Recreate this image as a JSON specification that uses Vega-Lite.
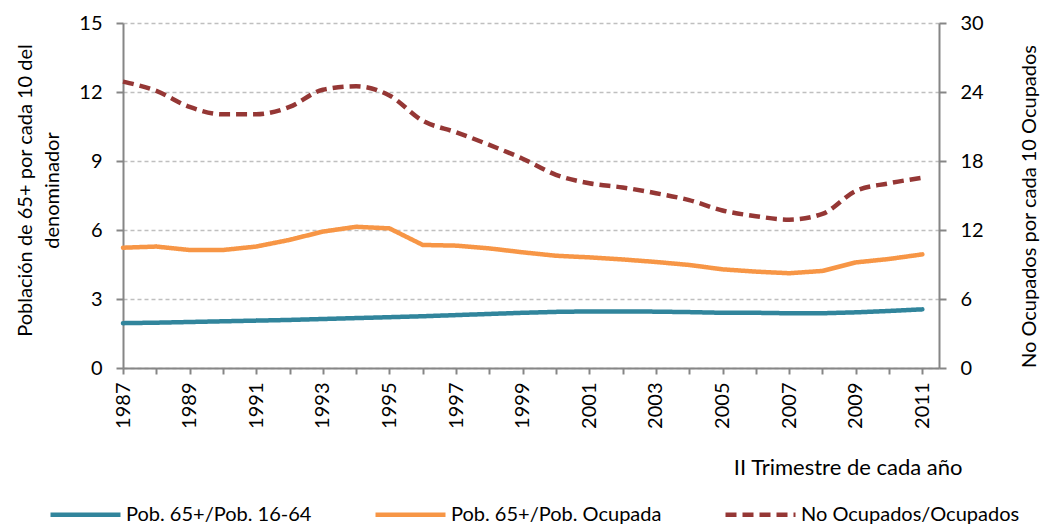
{
  "$schema": "https://vega.github.io/schema/vega-lite/v6.json",
  "width": 816,
  "height": 345,
  "autosize": {"type": "none"},
  "padding": {"left": 123, "top": 23, "right": 101, "bottom": 156},
  "background": "white",
  "config": {
    "font": "Lato",
    "view": {"stroke": null},
    "axis": {"labelFont": "Lato", "titleFont": "Lato", "labelColor": "#000000", "titleColor": "#000000", "domainColor": "#868686", "tickColor": "#868686", "domainWidth": 2, "tickWidth": 2},
    "legend": {
      "orient": "none",
      "legendX": -75,
      "legendY": 454,
      "direction": "horizontal",
      "symbolType": "stroke",
      "symbolSize": 4900,
      "symbolStrokeWidth": 4.5,
      "labelFontSize": 20,
      "labelFont": "Lato",
      "labelColor": "#000000",
      "labelOffset": 3,
      "labelLimit": 0,
      "columnPadding": 54,
      "title": null
    }
  },
  "data": {
    "values": [
      {"year": 1987, "series": "Pob. 65+/Pob. 16-64", "value": 1.95},
      {"year": 1988, "series": "Pob. 65+/Pob. 16-64", "value": 1.97},
      {"year": 1989, "series": "Pob. 65+/Pob. 16-64", "value": 2.0},
      {"year": 1990, "series": "Pob. 65+/Pob. 16-64", "value": 2.03},
      {"year": 1991, "series": "Pob. 65+/Pob. 16-64", "value": 2.06},
      {"year": 1992, "series": "Pob. 65+/Pob. 16-64", "value": 2.09},
      {"year": 1993, "series": "Pob. 65+/Pob. 16-64", "value": 2.13},
      {"year": 1994, "series": "Pob. 65+/Pob. 16-64", "value": 2.17},
      {"year": 1995, "series": "Pob. 65+/Pob. 16-64", "value": 2.21},
      {"year": 1996, "series": "Pob. 65+/Pob. 16-64", "value": 2.25},
      {"year": 1997, "series": "Pob. 65+/Pob. 16-64", "value": 2.3},
      {"year": 1998, "series": "Pob. 65+/Pob. 16-64", "value": 2.35},
      {"year": 1999, "series": "Pob. 65+/Pob. 16-64", "value": 2.4},
      {"year": 2000, "series": "Pob. 65+/Pob. 16-64", "value": 2.44},
      {"year": 2001, "series": "Pob. 65+/Pob. 16-64", "value": 2.46},
      {"year": 2002, "series": "Pob. 65+/Pob. 16-64", "value": 2.46},
      {"year": 2003, "series": "Pob. 65+/Pob. 16-64", "value": 2.45},
      {"year": 2004, "series": "Pob. 65+/Pob. 16-64", "value": 2.43},
      {"year": 2005, "series": "Pob. 65+/Pob. 16-64", "value": 2.4},
      {"year": 2006, "series": "Pob. 65+/Pob. 16-64", "value": 2.4},
      {"year": 2007, "series": "Pob. 65+/Pob. 16-64", "value": 2.38},
      {"year": 2008, "series": "Pob. 65+/Pob. 16-64", "value": 2.38},
      {"year": 2009, "series": "Pob. 65+/Pob. 16-64", "value": 2.42},
      {"year": 2010, "series": "Pob. 65+/Pob. 16-64", "value": 2.48},
      {"year": 2011, "series": "Pob. 65+/Pob. 16-64", "value": 2.55},
      {"year": 1987, "series": "Pob. 65+/Pob. Ocupada", "value": 5.23},
      {"year": 1988, "series": "Pob. 65+/Pob. Ocupada", "value": 5.28},
      {"year": 1989, "series": "Pob. 65+/Pob. Ocupada", "value": 5.13},
      {"year": 1990, "series": "Pob. 65+/Pob. Ocupada", "value": 5.13},
      {"year": 1991, "series": "Pob. 65+/Pob. Ocupada", "value": 5.28},
      {"year": 1992, "series": "Pob. 65+/Pob. Ocupada", "value": 5.57},
      {"year": 1993, "series": "Pob. 65+/Pob. Ocupada", "value": 5.93},
      {"year": 1994, "series": "Pob. 65+/Pob. Ocupada", "value": 6.14},
      {"year": 1995, "series": "Pob. 65+/Pob. Ocupada", "value": 6.07},
      {"year": 1996, "series": "Pob. 65+/Pob. Ocupada", "value": 5.35},
      {"year": 1997, "series": "Pob. 65+/Pob. Ocupada", "value": 5.32},
      {"year": 1998, "series": "Pob. 65+/Pob. Ocupada", "value": 5.2},
      {"year": 1999, "series": "Pob. 65+/Pob. Ocupada", "value": 5.03},
      {"year": 2000, "series": "Pob. 65+/Pob. Ocupada", "value": 4.88},
      {"year": 2001, "series": "Pob. 65+/Pob. Ocupada", "value": 4.81},
      {"year": 2002, "series": "Pob. 65+/Pob. Ocupada", "value": 4.72},
      {"year": 2003, "series": "Pob. 65+/Pob. Ocupada", "value": 4.61},
      {"year": 2004, "series": "Pob. 65+/Pob. Ocupada", "value": 4.48},
      {"year": 2005, "series": "Pob. 65+/Pob. Ocupada", "value": 4.29},
      {"year": 2006, "series": "Pob. 65+/Pob. Ocupada", "value": 4.19},
      {"year": 2007, "series": "Pob. 65+/Pob. Ocupada", "value": 4.12},
      {"year": 2008, "series": "Pob. 65+/Pob. Ocupada", "value": 4.22},
      {"year": 2009, "series": "Pob. 65+/Pob. Ocupada", "value": 4.59},
      {"year": 2010, "series": "Pob. 65+/Pob. Ocupada", "value": 4.74},
      {"year": 2011, "series": "Pob. 65+/Pob. Ocupada", "value": 4.94},
      {"year": 1987, "series": "No Ocupados/Ocupados", "value": 24.9},
      {"year": 1988, "series": "No Ocupados/Ocupados", "value": 24.1},
      {"year": 1989, "series": "No Ocupados/Ocupados", "value": 22.7},
      {"year": 1990, "series": "No Ocupados/Ocupados", "value": 22.06},
      {"year": 1991, "series": "No Ocupados/Ocupados", "value": 22.06},
      {"year": 1992, "series": "No Ocupados/Ocupados", "value": 22.7},
      {"year": 1993, "series": "No Ocupados/Ocupados", "value": 24.2},
      {"year": 1994, "series": "No Ocupados/Ocupados", "value": 24.5},
      {"year": 1995, "series": "No Ocupados/Ocupados", "value": 23.7},
      {"year": 1996, "series": "No Ocupados/Ocupados", "value": 21.5},
      {"year": 1997, "series": "No Ocupados/Ocupados", "value": 20.5},
      {"year": 1998, "series": "No Ocupados/Ocupados", "value": 19.4},
      {"year": 1999, "series": "No Ocupados/Ocupados", "value": 18.2},
      {"year": 2000, "series": "No Ocupados/Ocupados", "value": 16.8},
      {"year": 2001, "series": "No Ocupados/Ocupados", "value": 16.06},
      {"year": 2002, "series": "No Ocupados/Ocupados", "value": 15.7},
      {"year": 2003, "series": "No Ocupados/Ocupados", "value": 15.2},
      {"year": 2004, "series": "No Ocupados/Ocupados", "value": 14.6},
      {"year": 2005, "series": "No Ocupados/Ocupados", "value": 13.7},
      {"year": 2006, "series": "No Ocupados/Ocupados", "value": 13.2},
      {"year": 2007, "series": "No Ocupados/Ocupados", "value": 12.9},
      {"year": 2008, "series": "No Ocupados/Ocupados", "value": 13.4},
      {"year": 2009, "series": "No Ocupados/Ocupados", "value": 15.4},
      {"year": 2010, "series": "No Ocupados/Ocupados", "value": 16.06},
      {"year": 2011, "series": "No Ocupados/Ocupados", "value": 16.55}
    ]
  },
  "encoding": {
    "x": {
      "field": "year",
      "type": "quantitative",
      "scale": {"domain": [1987, 2011.5], "nice": false, "zero": false},
      "axis": {
        "values": [1987,1988,1989,1990,1991,1992,1993,1994,1995,1996,1997,1998,1999,2000,2001,2002,2003,2004,2005,2006,2007,2008,2009,2010,2011],
        "format": "d",
        "labelExpr": "datum.value % 2 == 1 ? datum.label : ''",
        "labelAngle": -90,
        "labelAlign": "right",
        "labelBaseline": "middle",
        "labelFontSize": 20,
        "labelPadding": 8,
        "labelOverlap": false,
        "tickSize": 6,
        "grid": false,
        "title": "II Trimestre de cada año",
        "titleFontSize": 22,
        "titleFontWeight": "normal",
        "titleAnchor": "end",
        "titleAlign": "right",
        "titleBaseline": "middle",
        "titleX": 839,
        "titleY": 99
      }
    },
    "color": {
      "field": "series",
      "type": "nominal",
      "scale": {
        "domain": ["Pob. 65+/Pob. 16-64", "Pob. 65+/Pob. Ocupada", "No Ocupados/Ocupados"],
        "range": ["#31859C", "#F79646", "#953735"]
      }
    },
    "strokeDash": {
      "field": "series",
      "type": "nominal",
      "scale": {
        "domain": ["Pob. 65+/Pob. 16-64", "Pob. 65+/Pob. Ocupada", "No Ocupados/Ocupados"],
        "range": [[1, 0], [1, 0], [11, 6]]
      }
    }
  },
  "layer": [
    {
      "transform": [{"filter": "datum.series != 'No Ocupados/Ocupados'"}],
      "mark": {"type": "line", "strokeWidth": 4.5, "strokeCap": "round", "strokeJoin": "round"},
      "encoding": {
        "y": {
          "field": "value",
          "type": "quantitative",
          "scale": {"domain": [0, 15], "nice": false},
          "axis": {
            "values": [0, 3, 6, 9, 12, 15],
            "labelFontSize": 20,
            "labelPadding": 14,
            "tickSize": 7,
            "grid": true,
            "gridColor": "#BFBFBF",
            "gridDash": [4, 3],
            "gridWidth": 1.5,
            "title": ["Población de 65+ por cada 10 del", "denominador"],
            "titleFontSize": 20,
            "titleFontWeight": "normal",
            "titleAngle": -90,
            "titleBaseline": "middle",
            "titleAlign": "center",
            "titleLineHeight": 27,
            "titleX": -98,
            "titleY": 167
          }
        }
      }
    },
    {
      "transform": [{"filter": "datum.series == 'No Ocupados/Ocupados'"}],
      "mark": {"type": "line", "strokeWidth": 4.5, "interpolate": "monotone"},
      "encoding": {
        "y": {
          "field": "value",
          "type": "quantitative",
          "scale": {"domain": [0, 30], "nice": false},
          "axis": {
            "orient": "right",
            "values": [0, 6, 12, 18, 24, 30],
            "labelFontSize": 20,
            "labelPadding": 14,
            "tickSize": 7,
            "grid": false,
            "title": "No Ocupados por cada 10 Ocupados",
            "titleFontSize": 20,
            "titleFontWeight": "normal",
            "titleAngle": -90,
            "titleBaseline": "middle",
            "titleAlign": "center",
            "titleX": 90,
            "titleY": 183
          }
        }
      }
    }
  ],
  "resolve": {"scale": {"y": "independent"}}
}
